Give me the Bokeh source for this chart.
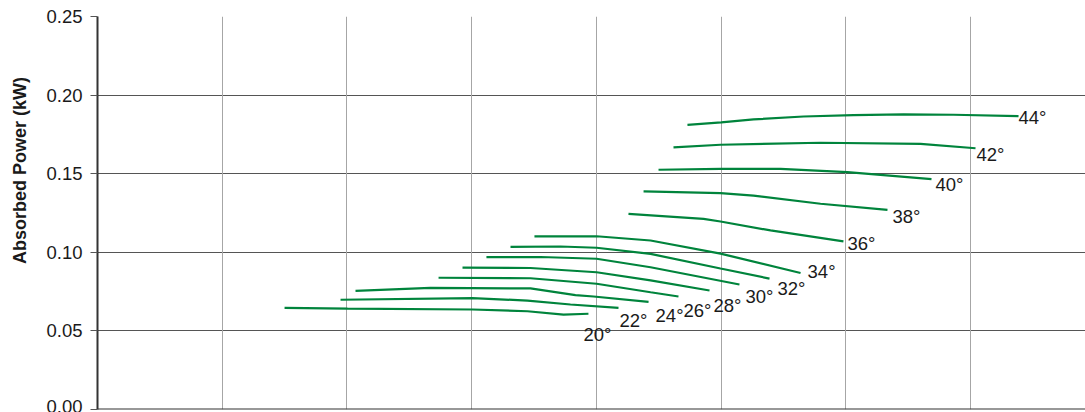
from bokeh.plotting import figure
from bokeh.models import (ColumnDataSource, FixedTicker, PrintfTickFormatter, Grid,
                          LinearAxis, Span, Range1d)
from bokeh.core.properties import value
from bokeh.embed import file_html
from bokeh.resources import INLINE

# ---------------- data ----------------
temps = ["20°", "22°", "24°", "26°", "28°", "30°", "32°", "34°", "36°", "38°", "40°", "42°", "44°"]

x_20 = [1.500, 2.005, 3.007, 3.448, 3.737, 3.937]
y_20 = [0.0647, 0.0642, 0.0636, 0.0625, 0.0604, 0.0609]

x_22 = [1.949, 3.007, 3.448, 3.793, 4.178]
y_22 = [0.0698, 0.0708, 0.0693, 0.0668, 0.0647]

x_24 = [2.069, 2.670, 3.472, 3.833, 3.978, 4.419]
y_24 = [0.0755, 0.0774, 0.0770, 0.0728, 0.0719, 0.0685]

x_26 = [2.735, 3.472, 4.002, 4.435, 4.659]
y_26 = [0.0838, 0.0835, 0.0800, 0.0746, 0.0719]

x_28 = [2.927, 3.472, 4.002, 4.435, 4.908]
y_28 = [0.0903, 0.0900, 0.0873, 0.0821, 0.0757]

x_30 = [3.119, 3.553, 4.002, 4.435, 5.148]
y_30 = [0.0969, 0.0970, 0.0959, 0.0905, 0.0795]

x_32 = [3.312, 3.713, 4.002, 4.435, 4.996, 5.389]
y_32 = [0.1035, 0.1037, 0.1029, 0.0990, 0.0897, 0.0833]

x_34 = [3.504, 4.002, 4.435, 4.996, 5.638]
y_34 = [0.1101, 0.1102, 0.1075, 0.0992, 0.0868]

x_36 = [4.258, 4.860, 4.996, 5.397, 5.982]
y_36 = [0.1245, 0.1213, 0.1196, 0.1139, 0.1069]

x_38 = [4.379, 4.996, 5.261, 5.798, 6.335]
y_38 = [0.1387, 0.1376, 0.1361, 0.1309, 0.1270]

x_40 = [4.499, 4.996, 5.477, 6.014, 6.688]
y_40 = [0.1525, 0.1531, 0.1531, 0.1510, 0.1465]

x_42 = [4.619, 4.996, 5.798, 6.600, 7.041]
y_42 = [0.1667, 0.1684, 0.1697, 0.1690, 0.1662]

x_44 = [4.731, 5.002, 5.261, 5.662, 6.063, 6.464, 6.865, 7.386]
y_44 = [0.1811, 0.1826, 0.1845, 0.1864, 0.1872, 0.1877, 0.1875, 0.1866]

xs_all = [x_20, x_22, x_24, x_26, x_28, x_30, x_32, x_34, x_36, x_38, x_40, x_42, x_44]
ys_all = [y_20, y_22, y_24, y_26, y_28, y_30, y_32, y_34, y_36, y_38, y_40, y_42, y_44]

y_ticks = [0.0, 0.05, 0.10, 0.15, 0.20, 0.25]
x_grid = [1, 2, 3, 4, 5, 6, 7]
y_title = "Absorbed Power (kW)"

# ---------------- layout / style ----------------
label_dx = [-5, 1, 7, 5, 4, 6, 8, 7, 4, 5, 4, 1, 0]
label_dy = [21, 13, 14, 14, 15, 12, 9.5, -2, 2, 7, 5, 6, 1]
TITLE_PAD = "\u00a0" * 17   # leading non-breaking spaces shift the centred title upward

GREEN = "#00843c"
FONT = "Liberation Sans"

p = figure(width=1085, height=412, output_backend="svg", toolbar_location=None,
           x_axis_location=None, y_axis_location="left",
           x_range=Range1d(0, 7.923), y_range=Range1d(0.0, 0.25),
           min_border_left=97, min_border_right=0, min_border_top=16, min_border_bottom=3)
p.outline_line_color = None
p.background_fill_color = "white"
p.border_fill_color = "white"

# y axis (ticks and tick labels)
yax = p.yaxis[0]
yax.ticker = FixedTicker(ticks=y_ticks)
yax.formatter = PrintfTickFormatter(format="%.2f")
yax.major_tick_in = 0
yax.major_tick_out = 7
yax.minor_tick_line_color = None
yax.major_tick_line_color = "#555555"
yax.axis_line_color = "#333333"
yax.axis_line_width = 2
yax.major_label_standoff = 8
yax.major_label_text_font = FONT
yax.major_label_text_font_size = "18.5px"
yax.major_label_text_color = "#1a1a1a"

# second, invisible axis that only carries the title
title_axis = LinearAxis(ticker=FixedTicker(ticks=[]),
                        axis_line_color=None, major_tick_line_color=None,
                        minor_tick_line_color=None, major_label_text_font_size="0px",
                        axis_label=TITLE_PAD + y_title, axis_label_standoff=14,
                        axis_label_text_font=FONT, axis_label_text_font_style="bold",
                        axis_label_text_font_size="18px", axis_label_text_color="#1a1a1a")
p.add_layout(title_axis, "left")

# grids
p.ygrid.grid_line_color = "#555555"
p.ygrid.grid_line_width = 1
p.xgrid.grid_line_color = None
p.add_layout(Grid(dimension=0, ticker=FixedTicker(ticks=x_grid),
                  grid_line_color="#a6a6a6", grid_line_width=1))

# bottom axis line
p.add_layout(Span(location=0.0, dimension="width", line_color="#333333", line_width=2))

# curves
for xs, ys in zip(xs_all, ys_all):
    p.line(xs, ys, line_color=GREEN, line_width=2.2)

# end labels
lab_src = ColumnDataSource(dict(
    x=[xs[-1] for xs in xs_all],
    y=[ys[-1] for ys in ys_all],
    text=temps,
    dx=label_dx,
    dy=label_dy,
))
p.text(x="x", y="y", text="text", source=lab_src, x_offset="dx", y_offset="dy",
       text_align="left", text_baseline="middle", text_font=value(FONT),
       text_font_size="18.5px", text_color="#1a1a1a")

open("out.html", "w").write(file_html(p, INLINE))
